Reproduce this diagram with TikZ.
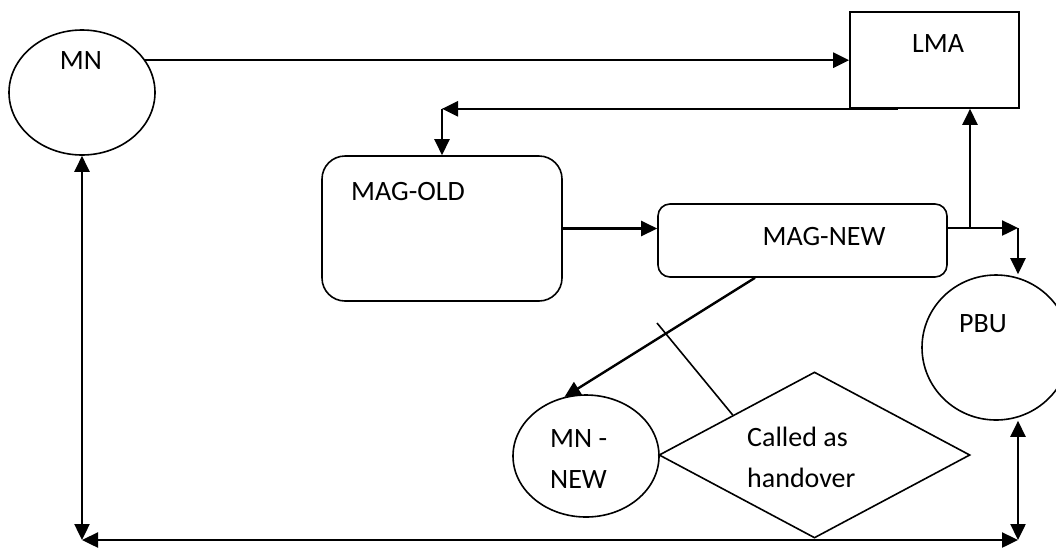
\documentclass[tikz,border=0pt]{standalone}
\usepackage{fontspec}
\setmainfont{Carlito}
\usetikzlibrary{shapes.geometric,arrows.meta,calc}
\begin{document}
\begin{tikzpicture}[x=1pt,y=-1pt,
  shapeline/.style={draw=black,line width=1.6pt,inner sep=0pt},
  oval/.style={shapeline,ellipse},
  box/.style={shapeline,rectangle},
  lbl/.style={font=\fontsize{28}{41}\selectfont,inner sep=0pt},
  arr/.style={line width=2.4pt,-{Triangle[length=16pt,width=15pt]}},
  darr/.style={line width=2.4pt,{Triangle[length=16pt,width=15pt]}-{Triangle[length=16pt,width=15pt]}},
  tickline/.style={line width=1.6pt}]
\useasboundingbox (0,0) rectangle (1056,547);

% nodes
\node[oval,minimum width=146,minimum height=125] (mn) at (82,92.5) {};
\node[lbl] (mnt) at (81,61) {MN};
\node[box,minimum width=169,minimum height=96] (lma) at (934.5,60) {};
\node[lbl] (lmat) at (938,43.5) {LMA};
\node[box,rounded corners=23pt,minimum width=240,minimum height=145] (magold) at (442,228.5) {};
\node[lbl] (magoldt) at (408,192) {MAG-OLD};
\node[box,rounded corners=12pt,minimum width=289,minimum height=73] (magnew) at (802.5,240.5) {};
\node[lbl] (magnewt) at (824,236.5) {MAG-NEW};
\node[oval,minimum width=148,minimum height=145] (pbu) at (996,347.5) {};
\node[lbl] (pbut) at (983,324) {PBU};
\node[oval,minimum width=146,minimum height=122] (mnnew) at (586,456) {};
\node[lbl,align=left,anchor=west] (mnnewt) at (550,459.5) {MN -\\NEW};
\node[shapeline,diamond,minimum width=311,minimum height=166] (dia) at (814.5,455) {};
\node[lbl,align=left,anchor=west] (diat) at (747,457) {Called as\\handover};

% free points
\coordinate (pj) at (1018,228);
\coordinate (lj) at (970,228);
\coordinate (bl) at (82,540);
\coordinate (br) at (1018,540);
\coordinate (tk) at (657,323);

% connectors
\draw[arr] (mn.27) -- (mn.27 -| lma.west);
\draw[arr] ([xshift=-36.5pt]lma.south) -- (magold.north |- lma.south);
\draw[arr] (magold.north |- lma.south) -- (magold.north);
\draw[arr] (magold.east) -- (magold.east -| magnew.west);
\draw[arr] ([yshift=12.5pt]magnew.east) -- (pj);
\draw[arr] (pj) -- (pj |- pbu.north);
\draw[arr] (lj) -- (lj |- lma.south);
\draw[arr] ([xshift=-47.5pt]magnew.south) -- (mnnew.110);
\draw[tickline] (tk) -- ($(dia.west)!0.477!(dia.north)$);
\draw[darr] (mn.south) -- (bl);
\draw[darr] (bl) -- (br);
\draw[darr] (br) -- (br |- pbu.south);
\end{tikzpicture}
\end{document}
